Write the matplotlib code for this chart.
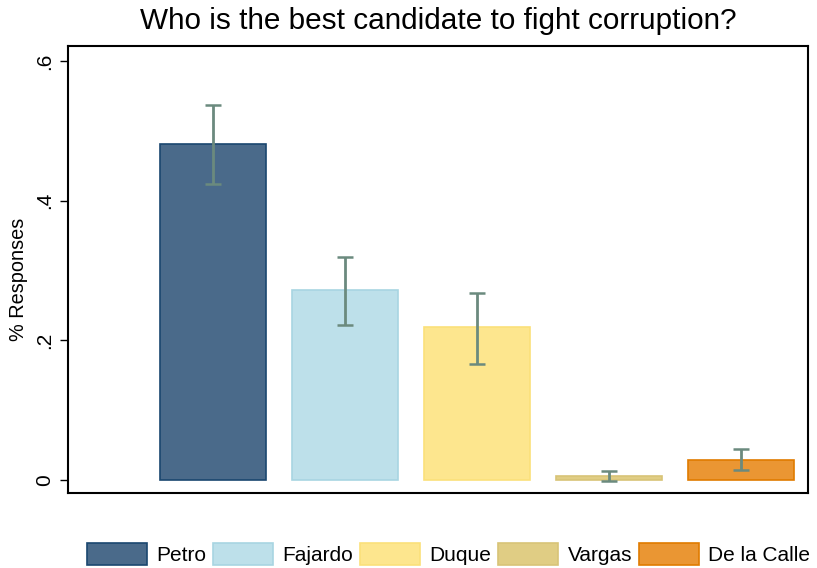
import numpy as np
import matplotlib
matplotlib.use("Agg")
import matplotlib.pyplot as plt
from matplotlib.patches import Patch

candidates = ["Petro", "Fajardo", "Duque", "Vargas", "De la Calle"]
share = [0.481, 0.272, 0.219, 0.006, 0.029]
ci_low = [0.424, 0.222, 0.166, -0.001, 0.014]
ci_high = [0.537, 0.319, 0.268, 0.013, 0.044]

fills = ["#4a6a8a", "#bde0ea", "#fde68e", "#e0cd84", "#ea9633"]
edges = ["#1a476f", "#a8d5e2", "#fbe07a", "#d8c477", "#e07b00"]

plt.rcParams['font.family'] = ['Liberation Sans', 'DejaVu Sans']

fig = plt.figure(figsize=(8.17, 5.68), dpi=100)
ax = fig.add_axes([68 / 817, 1 - 493 / 568, 740 / 817, 447 / 568])

x = np.arange(1, len(candidates) + 1)
ax.bar(x, share, width=0.803, color=fills, edgecolor=edges, linewidth=1.2, zorder=2)

lo = np.array(share) - np.array(ci_low)
hi = np.array(ci_high) - np.array(share)
ax.errorbar(x, share, yerr=[lo, hi], fmt="none", ecolor="#6b8a7e",
            elinewidth=2, capsize=6, capthick=1.8, zorder=3)

ax.set_xlim(-0.102, 5.508)
ax.set_ylim(-0.0186, 0.6216)
ax.set_xticks([])
ax.set_yticks([0, 0.2, 0.4, 0.6])
ax.set_yticklabels(["0", ".2", ".4", ".6"], rotation=90, va="center")
ax.tick_params(axis="y", labelsize=15, length=6, width=1, pad=4)
ax.set_ylabel("% Responses", fontsize=14.3)
ax.yaxis.set_label_coords(-0.054, 0.478)
for s in ax.spines.values():
    s.set_linewidth(1.5)
    s.set_color("black")

fig.suptitle("Who is the best candidate to fight corruption?", fontsize=21.4,
             x=438.5 / 817, y=1 - 7 / 568, va="top")

handles = [Patch(facecolor=f, edgecolor=e, linewidth=1.2) for f, e in zip(fills, edges)]
fig.legend(handles, candidates, loc="center", bbox_to_anchor=(448.5 / 817, 1 - 554 / 568),
           ncol=5, frameon=False, fontsize=15, handlelength=2.88, handleheight=1.3,
           handletextpad=0.45, columnspacing=0.33, borderpad=0)

fig.savefig("out.png", dpi=100, facecolor="white")
